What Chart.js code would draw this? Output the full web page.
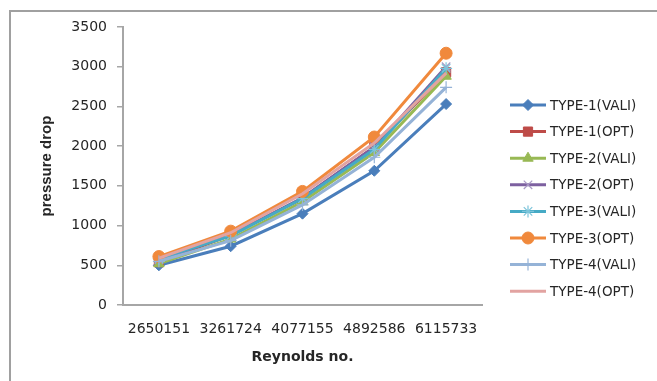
<!DOCTYPE html>
<html>
<head>
<meta charset="utf-8">
<script src="https://cdn.jsdelivr.net/npm/chart.js@4/dist/chart.umd.min.js"></script>
<style>
  html, body { margin: 0; padding: 0; background: #fff; overflow: hidden; }
  #wrap { position: relative; width: 657px; height: 381px; }
  #frame { position: absolute; left: 9px; top: 10px; width: 700px; height: 400px;
           border-left: 2px solid #a0a0a0; border-top: 2px solid #a0a0a0; }
  canvas { position: absolute; left: 0; top: 0; }
</style>
</head>
<body>
<div id="wrap">
  <div id="frame"></div>
  <canvas id="c" width="657" height="381"></canvas>
</div>
<script>
var reynolds = ['2650151', '3261724', '4077155', '4892586', '6115733'];
var yTicks = [0, 500, 1000, 1500, 2000, 2500, 3000, 3500];

var type1Vali = [500, 740, 1150, 1690, 2530];
var type1Opt  = [540, 880, 1340, 1990, 2930];
var type2Vali = [520, 830, 1300, 1920, 2880];
var type2Opt  = [570, 880, 1350, 1990, 3000];
var type3Vali = [580, 870, 1340, 1960, 2980];
var type3Opt  = [610, 930, 1430, 2115, 3170];
var type4Vali = [550, 810, 1260, 1860, 2740];
var type4Opt  = [590, 910, 1400, 2040, 2920];

var seriesNames = ['TYPE-1(VALI)', 'TYPE-1(OPT)', 'TYPE-2(VALI)', 'TYPE-2(OPT)',
                   'TYPE-3(VALI)', 'TYPE-3(OPT)', 'TYPE-4(VALI)', 'TYPE-4(OPT)'];
var seriesData = [type1Vali, type1Opt, type2Vali, type2Opt, type3Vali, type3Opt, type4Vali, type4Opt];

// line colour, marker colour, marker shape, marker radius, marker border
var looks = [
    ['#4A7EBB', '#4A7EBB', 'rectRot',  5.5, 1],
    ['#BE4B48', '#BE4B48', 'rect',     6.5, 1],
    ['#98B954', '#98B954', 'triangle', 6,   1],
    ['#7D60A0', '#A899C4', 'crossRot', 6,   1.2],
    ['#46AAC5', '#7CC4DA', 'star',     6,   1.2],
    ['#F0893C', '#F0893C', 'circle',   6,   1],
    ['#95B3D7', '#95B3D7', 'cross',    6,   1.2],
    ['#E2A3A1', '#E2A3A1', false,      0,   0]
];

var textColor = '#262626';
var axisColor = '#a6a6a6';

var datasets = seriesNames.map(function(name, i) {
    var lk = looks[i];
    return {
        label: name,
        data: seriesData[i],
        borderColor: lk[0],
        backgroundColor: lk[1],
        borderWidth: 3,
        pointStyle: lk[2],
        pointRadius: lk[3],
        pointBorderColor: lk[1],
        pointBackgroundColor: lk[1],
        pointBorderWidth: lk[4],
        tension: 0,
        order: seriesNames.length - i
    };
});

// legend on the right: a short line with the series marker, then the name
var sideLegend = {
    id: 'sideLegend',
    afterDraw: function(chart) {
        var ctx = chart.ctx;
        var x0 = 510, lineW = 36, top = 105, step = 26.6;
        ctx.save();
        chart.data.datasets.forEach(function(ds, i) {
            var y = top + i * step;
            ctx.strokeStyle = ds.borderColor;
            ctx.lineWidth = 3;
            ctx.beginPath();
            ctx.moveTo(x0, y);
            ctx.lineTo(x0 + lineW, y);
            ctx.stroke();
            if (ds.pointStyle) {
                ctx.fillStyle = ds.pointBackgroundColor;
                ctx.strokeStyle = ds.pointBorderColor;
                ctx.lineWidth = ds.pointBorderWidth;
                Chart.helpers.drawPoint(ctx, {
                    pointStyle: ds.pointStyle,
                    radius: ds.pointRadius,
                    borderWidth: ds.pointBorderWidth,
                    rotation: 0
                }, x0 + lineW / 2, y);
            }
            ctx.fillStyle = textColor;
            ctx.font = '13.5px "DejaVu Sans"';
            ctx.textAlign = 'left';
            ctx.textBaseline = 'middle';
            ctx.fillText(ds.label, x0 + lineW + 4, y + 1);
        });
        ctx.restore();
    }
};

new Chart(document.getElementById('c'), {
    type: 'line',
    data: { labels: reynolds, datasets: datasets },
    plugins: [sideLegend],
    options: {
        responsive: false,
        animation: false,
        layout: { padding: { left: 0, right: 175, top: 27, bottom: 0 } },
        plugins: {
            legend: { display: false },
            tooltip: { enabled: false }
        },
        scales: {
            x: {
                offset: true,
                afterFit: function(s) { s.height = 76; },
                grid: { display: true, drawOnChartArea: false, drawTicks: false },
                border: { display: true, color: axisColor, width: 2 },
                ticks: {
                    color: textColor, font: { family: 'DejaVu Sans', size: 14 },
                    padding: 16, autoSkip: false, maxRotation: 0
                },
                title: {
                    display: true, text: 'Reynolds no.', color: textColor,
                    font: { family: 'DejaVu Sans', size: 14, weight: 'bold' },
                    padding: { top: 0, bottom: 15 }
                }
            },
            y: {
                min: 0, max: 3500,
                afterFit: function(s) { s.width = 123; },
                afterBuildTicks: function(s) {
                    s.ticks = yTicks.map(function(v) { return { value: v }; });
                },
                grid: { display: true, drawOnChartArea: false, drawTicks: true, tickLength: 6, color: axisColor, lineWidth: 1.5 },
                border: { display: true, color: axisColor, width: 2 },
                ticks: {
                    color: textColor, font: { family: 'DejaVu Sans', size: 14 },
                    padding: 10,
                    callback: function(v) { return String(v); }
                },
                title: {
                    display: true, text: 'pressure drop', color: textColor,
                    font: { family: 'Liberation Sans', size: 15, weight: 'bold' },
                    padding: { top: 38, bottom: 0 }
                }
            }
        }
    }
});
</script>
</body>
</html>
